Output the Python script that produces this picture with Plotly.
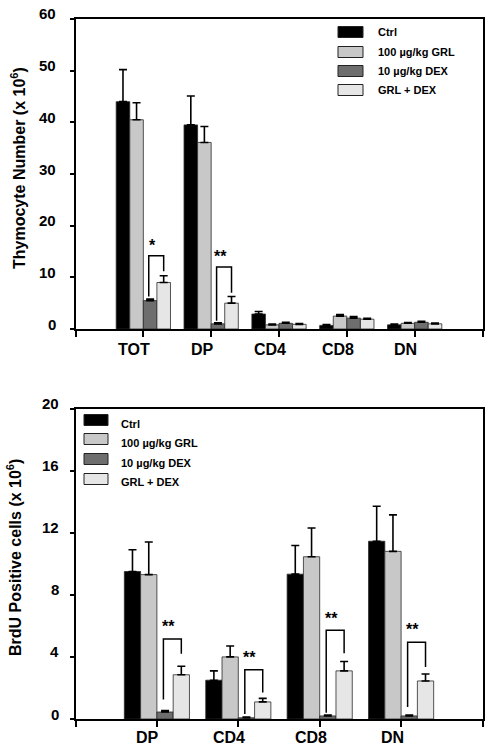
import plotly.graph_objects as go

W, H = 492, 750

series = ["Ctrl", "100 µg/kg GRL", "10 µg/kg DEX", "GRL + DEX"]
colors = ["#000000", "#c8c8c8", "#6e6e6e", "#e6e6e6"]

# ---- top panel: thymocyte number ----
top_groups = ["TOT", "DP", "CD4", "CD8", "DN"]
top_ctrl = [44.0, 39.5, 2.9, 0.7, 0.8]
top_grl = [40.5, 36.1, 0.8, 2.5, 1.1]
top_dex = [5.5, 1.0, 1.1, 2.1, 1.3]
top_grldex = [9.0, 5.0, 0.9, 1.9, 1.0]
top_ctrl_err = [6.2, 5.6, 0.5, 0.15, 0.15]
top_grl_err = [3.3, 3.1, 0.15, 0.3, 0.15]
top_dex_err = [0.3, 0.2, 0.2, 0.3, 0.2]
top_grldex_err = [1.3, 1.3, 0.15, 0.15, 0.15]
top_yticks = [0, 10, 20, 30, 40, 50, 60]

top_sig_idx = [0, 1]
top_sig_top = [14.2, 12.0]
top_sig_left = [6.3, 1.6]
top_sig_right = [11.2, 7.0]
top_sig_label = ["*", "**"]
top_sig_label_y = [16.2, 14.0]

# ---- bottom panel: BrdU positive cells ----
bot_groups = ["DP", "CD4", "CD8", "DN"]
bot_ctrl = [9.5, 2.5, 9.33, 11.45]
bot_grl = [9.3, 4.0, 10.45, 10.8]
bot_dex = [0.45, 0.08, 0.2, 0.2]
bot_grldex = [2.85, 1.1, 3.1, 2.45]
bot_ctrl_err = [1.4, 0.6, 1.85, 2.25]
bot_grl_err = [2.1, 0.7, 1.85, 2.35]
bot_dex_err = [0.1, 0.04, 0.06, 0.06]
bot_grldex_err = [0.55, 0.23, 0.6, 0.45]
bot_yticks = [0, 4, 8, 12, 16, 20]

bot_sig_idx = [0, 1, 2, 3]
bot_sig_top = [5.16, 3.18, 5.72, 4.95]
bot_sig_left = [1.25, 0.32, 0.4, 0.77]
bot_sig_right = [4.2, 1.7, 4.24, 3.35]
bot_sig_label = ["**", "**", "**", "**"]
bot_sig_label_y = [5.95, 3.95, 6.5, 5.75]

FONT = "Liberation Sans, Arial, sans-serif"


def px(x):
    return x / W


def py(y):
    return 1 - y / H


fig = go.Figure()

panels = [
    dict(xa="x", ya="y", groups=top_groups,
         vals=[top_ctrl, top_grl, top_dex, top_grldex],
         errs=[top_ctrl_err, top_grl_err, top_dex_err, top_grldex_err],
         sig=(top_sig_idx, top_sig_top, top_sig_left, top_sig_right, top_sig_label, top_sig_label_y)),
    dict(xa="x2", ya="y2", groups=bot_groups,
         vals=[bot_ctrl, bot_grl, bot_dex, bot_grldex],
         errs=[bot_ctrl_err, bot_grl_err, bot_dex_err, bot_grldex_err],
         sig=(bot_sig_idx, bot_sig_top, bot_sig_left, bot_sig_right, bot_sig_label, bot_sig_label_y)),
]

for p in panels:
    xs = list(range(len(p["groups"])))
    for name, col, v, e in zip(series, colors, p["vals"], p["errs"]):
        fig.add_trace(go.Bar(
            x=xs, y=v, name=name, xaxis=p["xa"], yaxis=p["ya"],
            marker=dict(color=col, line=dict(color="#2a2a2a", width=0.8)),
            error_y=dict(type="data", symmetric=False, array=e,
                         arrayminus=[0] * len(e), color="#000000",
                         thickness=1.6, width=4),
            showlegend=False, offsetgroup=name,
        ))
    idx, tops, lefts, rights, labels, label_y = p["sig"]
    for i, t, l, r in zip(idx, tops, lefts, rights):
        xl, xr = i + 0.08, i + 0.3
        fig.add_trace(go.Scatter(
            x=[xl, xl, xr, xr], y=[l, t, t, r], mode="lines",
            line=dict(color="#000000", width=1.5),
            xaxis=p["xa"], yaxis=p["ya"], showlegend=False, hoverinfo="skip",
        ))
    for i, lab, ly in zip(idx, labels, label_y):
        fig.add_annotation(x=i + 0.14, y=ly, xref=p["xa"], yref=p["ya"],
                           text="<b>%s</b>" % lab, showarrow=False,
                           font=dict(family=FONT, size=16, color="#000"),
                           xanchor="center", yanchor="middle")

axis_common = dict(showline=True, linewidth=2, linecolor="#000", mirror=True,
                   showgrid=False, zeroline=False, ticks="outside",
                   tickwidth=2, tickcolor="#000", showticklabels=False)

x_dom = [px(75.5), px(482.5)]
fig.update_layout(
    width=W, height=H, margin=dict(l=0, r=0, t=0, b=0),
    paper_bgcolor="white", plot_bgcolor="white",
    barmode="group", bargap=0.2, bargroupgap=0,
    xaxis=dict(domain=x_dom, anchor="y", range=[-1, 5],
               tickvals=list(range(-1, 6)), ticklen=6, **axis_common),
    yaxis=dict(domain=[py(329), py(19)], anchor="x", range=[0, 60],
               tickvals=top_yticks, ticklen=4, **axis_common),
    xaxis2=dict(domain=x_dom, anchor="y2", range=[-1, 4],
                tickvals=list(range(-1, 5)), ticklen=6, **axis_common),
    yaxis2=dict(domain=[py(719), py(408.5)], anchor="x2", range=[0, 20],
                tickvals=bot_yticks, ticklen=4, **axis_common),
    font=dict(family=FONT, color="#000"),
)

# tick labels (slightly offset, as in the original)
for xa, ya, groups, ylab_y in [("x", "y", top_groups, py(349)), ("x2", "y2", bot_groups, py(737))]:
    for i, g in enumerate(groups):
        fig.add_annotation(x=i, y=ylab_y, xref=xa, yref="paper", text="<b>%s</b>" % g,
                           showarrow=False, xshift=-9, xanchor="center", yanchor="middle",
                           font=dict(family=FONT, size=16, color="#000"))
for ya, ticks, xr in [("y", top_yticks, px(58)), ("y2", bot_yticks, px(61))]:
    for t in ticks:
        fig.add_annotation(x=xr, y=t, xref="paper", yref=ya, text="<b>%d</b>" % t,
                           showarrow=False, yshift=5, xanchor="right", yanchor="middle",
                           font=dict(family=FONT, size=15, color="#000"))

# axis titles
fig.add_annotation(x=px(18), y=py(168), xref="paper", yref="paper",
                   text="<b>Thymocyte Number (x 10<sup>6</sup>)</b>", textangle=-90,
                   showarrow=False, xanchor="center", yanchor="middle",
                   font=dict(family=FONT, size=16, color="#000"))
fig.add_annotation(x=px(14), y=py(558), xref="paper", yref="paper",
                   text="<b>BrdU Positive cells (x 10<sup>6</sup>)</b>", textangle=-90,
                   showarrow=False, xanchor="center", yanchor="middle",
                   font=dict(family=FONT, size=16, color="#000"))

# legends
legend_specs = [
    dict(x0=338, x1=363, ys=[32, 52, 71, 90], tx=376, tys=[32, 52, 71, 90]),
    dict(x0=84, x1=108, ys=[420, 439, 459, 479], tx=119, tys=[424, 443, 463, 482]),
]
for spec in legend_specs:
    for name, col, yc, ty in zip(series, colors, spec["ys"], spec["tys"]):
        fig.add_shape(type="rect", xref="paper", yref="paper",
                      x0=px(spec["x0"]), x1=px(spec["x1"]),
                      y0=py(yc + 5.5), y1=py(yc - 5.5),
                      fillcolor=col, line=dict(color="#222", width=1))
        fig.add_annotation(x=px(spec["tx"]), y=py(ty), xref="paper", yref="paper",
                           text="<b>%s</b>" % name, showarrow=False,
                           xanchor="left", yanchor="middle",
                           font=dict(family=FONT, size=11, color="#000"))

fig.write_html("out.html", config={"displayModeBar": False},
               post_script="document.body.style.margin='0';")
